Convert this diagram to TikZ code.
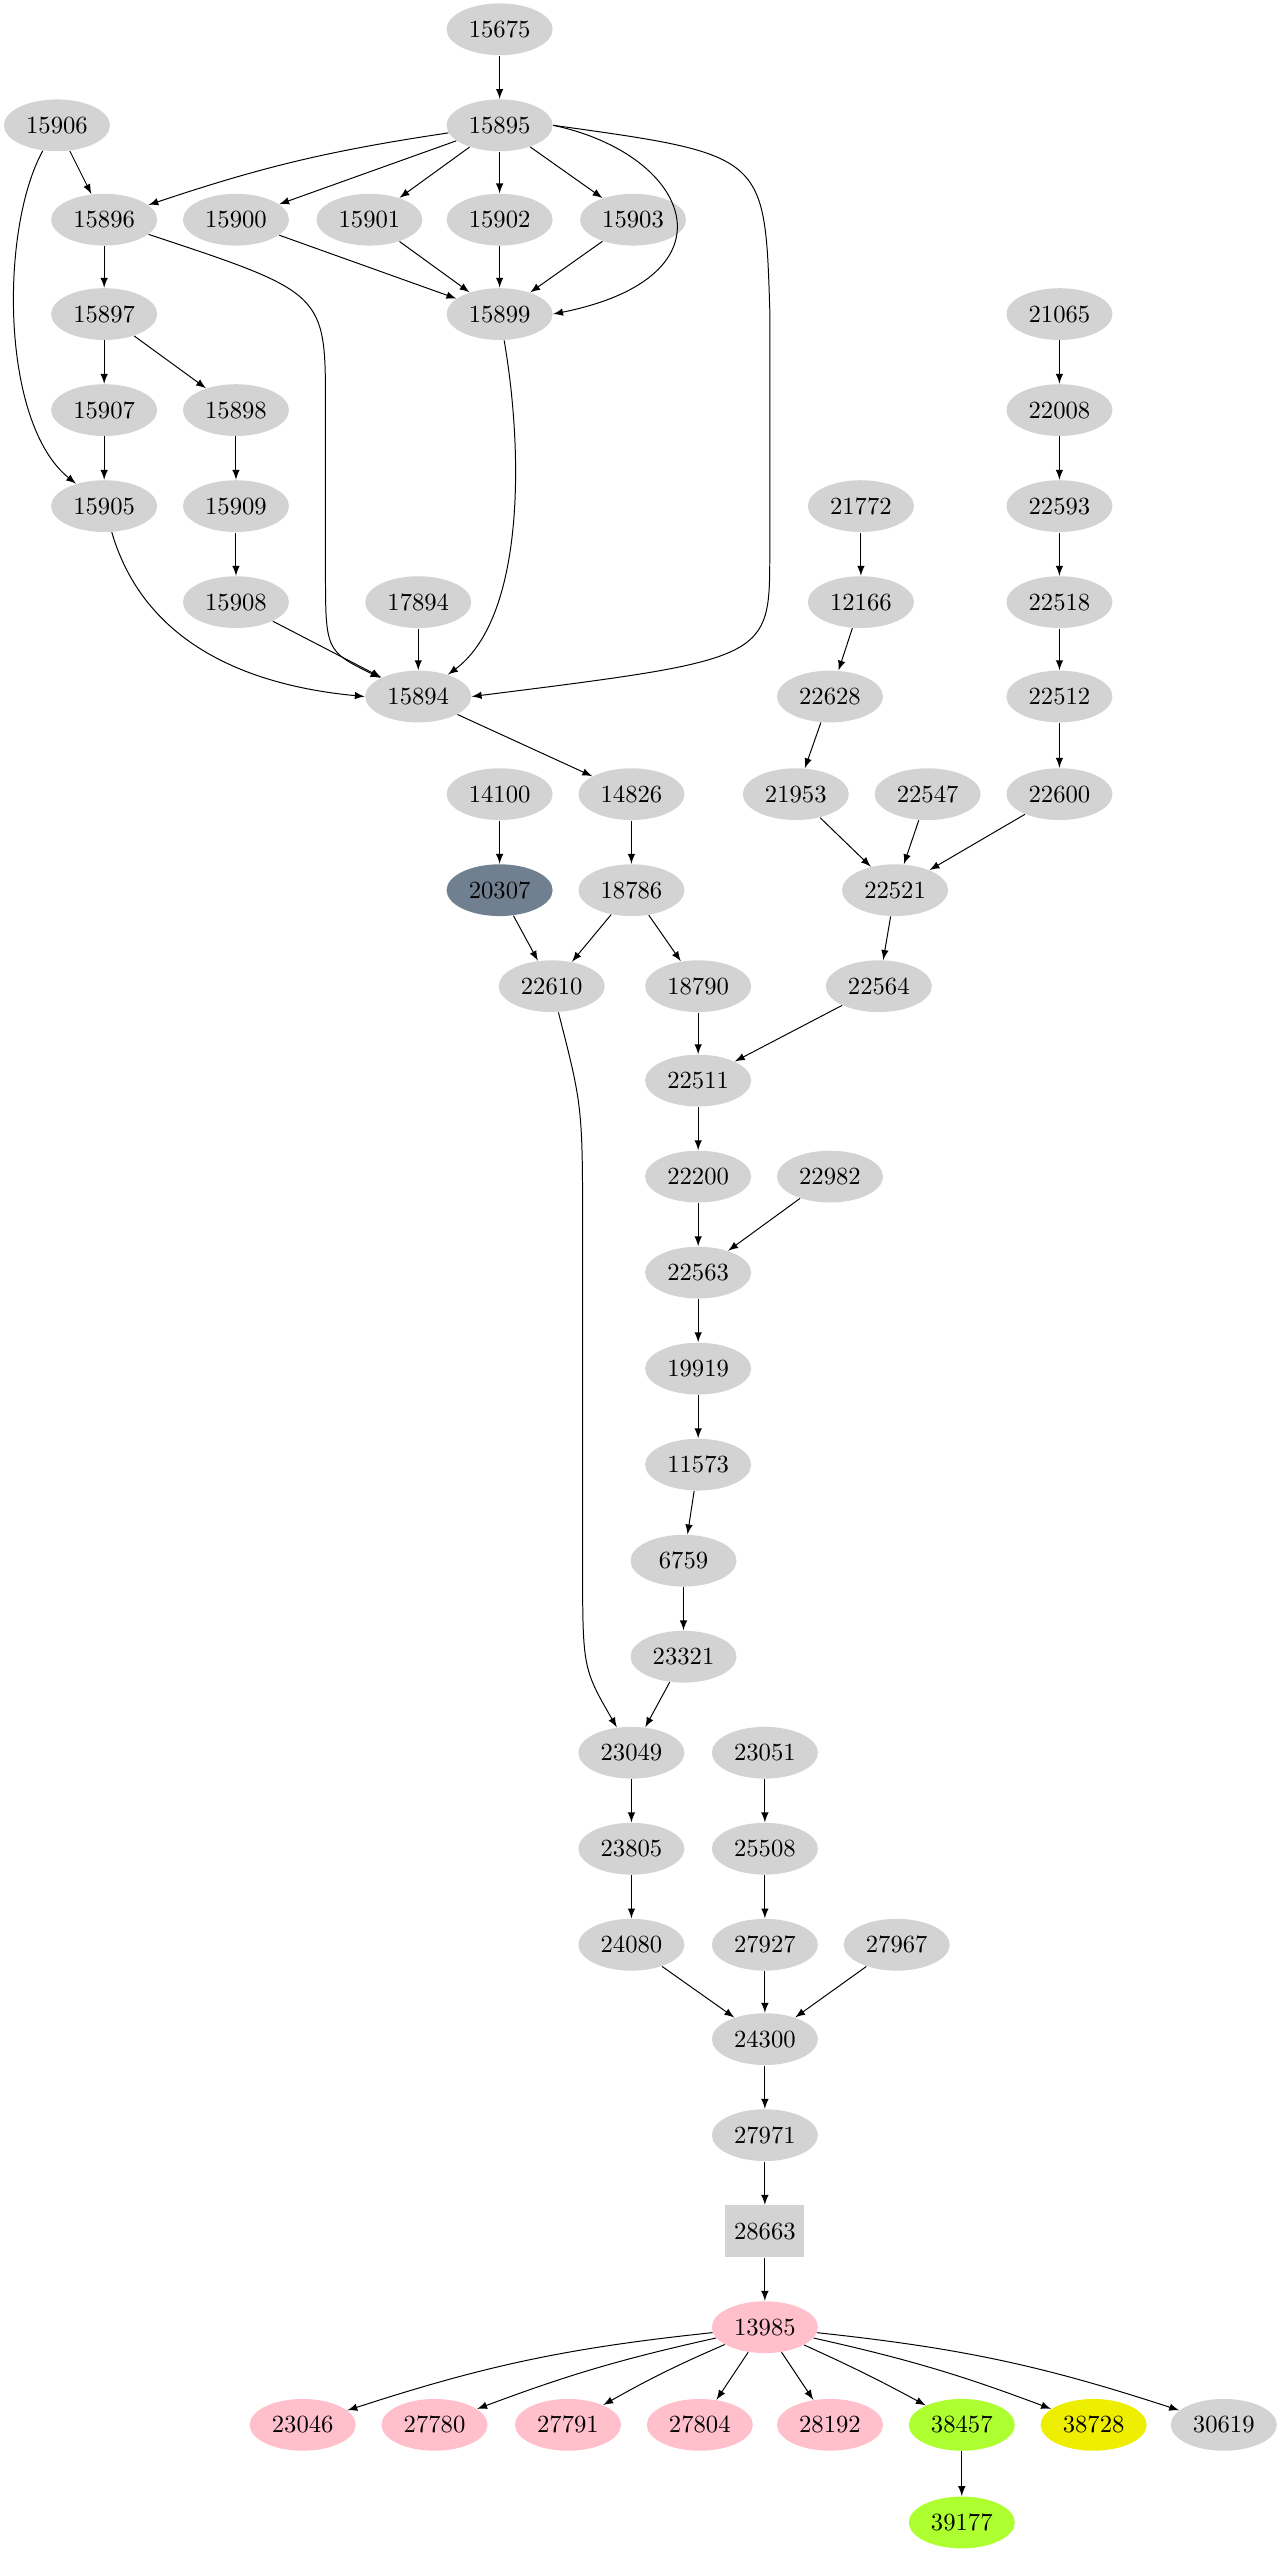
\documentclass[tikz,border=0pt]{standalone}
\usetikzlibrary{arrows,shapes.geometric}
\definecolor{lgray}{HTML}{D3D3D3}
\definecolor{slate}{HTML}{708090}
\definecolor{pinkc}{HTML}{FFC0CB}
\definecolor{grnyel}{HTML}{ADFF2F}
\definecolor{yelc}{HTML}{EEEE00}
\tikzset{
  >= latex,
  nd/.style={ellipse, fill=lgray, minimum width=43pt, minimum height=21pt, inner sep=1pt},
  bx/.style={rectangle, fill=lgray, minimum width=32pt, minimum height=21pt},
  ed/.style={->, thin}
}
\begin{document}
\begin{tikzpicture}[x=0.66pt, y=-0.66pt]
  \useasboundingbox (0,0) rectangle (790,1570);
  \foreach \n/\x/\y in {15675/307/18, 15906/35/77, 15895/307/77,
    15896/64/135, 15900/145/135, 15901/227/135, 15902/307/135, 15903/389/135,
    15899/307/193, 21065/651/193, 15897/64/193,
    15907/64/252, 15898/145/252, 22008/651/252,
    15905/64/311, 15909/145/311, 21772/529/311, 22593/651/311,
    15908/145/370, 17894/257/370, 12166/529/370, 22518/651/370,
    15894/257/428, 22628/510/428, 22512/651/428,
    14100/307/488, 14826/388/488, 21953/489/488, 22547/570/488, 22600/651/488,
    18786/388/547, 22521/550/547,
    22610/339/606, 18790/429/606, 22564/540/606,
    22511/429/664, 22200/429/723, 22982/510/723, 22563/429/782,
    19919/429/841, 11573/429/900, 6759/420/959, 23321/420/1018,
    23049/388/1077, 23051/470/1077, 23805/388/1136, 25508/470/1136,
    24080/388/1195, 27927/470/1195, 27967/551/1195,
    24300/470/1253, 27971/470/1312, 30619/752/1490}
    \node[nd] (n\n) at (\x,\y) {\n};
  \node[nd, fill=slate] (n20307) at (307,547) {20307};
  \node[bx] (n28663) at (470,1371) {28663};
  \node[nd, fill=pinkc] (n13985) at (470,1430) {13985};
  \foreach \n/\x in {23046/186, 27780/267, 27791/349, 27804/430, 28192/510}
    \node[nd, fill=pinkc] (n\n) at (\x,1490) {\n};
  \node[nd, fill=grnyel] (n38457) at (591,1490) {38457};
  \node[nd, fill=yelc] (n38728) at (672,1490) {38728};
  \node[nd, fill=grnyel] (n39177) at (591,1550) {39177};
  % straight edges
  \foreach \a/\b in {15675/15895, 15906/15896, 15895/15900, 15895/15901,
    15895/15902, 15895/15903, 15900/15899, 15901/15899, 15902/15899, 15903/15899,
    15896/15897, 15897/15907, 15897/15898, 15907/15905, 15898/15909, 15909/15908,
    15908/15894, 17894/15894, 15894/14826, 14826/18786, 14100/20307,
    20307/22610, 18786/22610, 18786/18790, 18790/22511, 22564/22511,
    21065/22008, 22008/22593, 22593/22518, 22518/22512, 22512/22600,
    21772/12166, 12166/22628, 22628/21953, 21953/22521, 22547/22521, 22600/22521,
    22521/22564, 22511/22200, 22200/22563, 22982/22563, 22563/19919,
    19919/11573, 11573/6759, 6759/23321, 23321/23049, 23049/23805, 23805/24080,
    23051/25508, 25508/27927, 24080/24300, 27927/24300, 27967/24300,
    24300/27971, 27971/28663, 28663/13985, 38457/39177}
    \draw[ed] (n\a) -- (n\b);
  % curved edges
  \draw[ed] (n15895) to[bend right=5] (n15896);
  \draw[ed] (n15895.east) .. controls (425,95) and (455,170) .. (n15899.east);
  \draw[ed] (n15895.east) .. controls (470,95) .. (473,190) -- (473,340)
    .. controls (473,405) .. (n15894.east);
  \draw[ed] (n15896) .. controls (200,180) .. (200,250) -- (200,350)
    .. controls (200,400) .. (n15894);
  \draw[ed] (n15906) .. controls (0,140) and (0,260) .. (n15905);
  \draw[ed] (n15905) .. controls (90,400) and (160,422) .. (n15894.west);
  \draw[ed] (n15899) .. controls (322,280) and (322,380) .. (n15894);
  \draw[ed] (n22610) .. controls (358,680) .. (358,760) -- (358,960)
    .. controls (358,1025) .. (n23049);
  \foreach \b/\c in {23046/6, 27780/4, 27791/3}
    \draw[ed] (n13985) to[bend right=\c] (n\b);
  \draw[ed] (n13985) -- (n27804);
  \draw[ed] (n13985) -- (n28192);
  \foreach \b/\c in {38457/2, 38728/4, 30619/6}
    \draw[ed] (n13985) to[bend left=\c] (n\b);
\end{tikzpicture}
\end{document}
